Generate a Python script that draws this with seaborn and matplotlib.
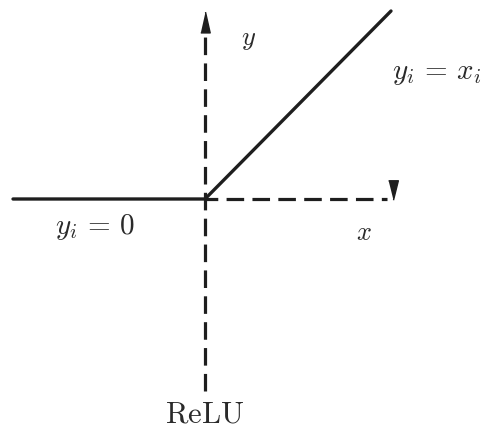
import matplotlib
matplotlib.use("Agg")
import matplotlib.pyplot as plt
import seaborn as sns
import pandas as pd

# ReLU curve (data units: origin at the axes crossing)
relu_x = [-1.92, 0.0, 1.86]
relu_y = [0.0, 0.0, 1.88]

# dashed axes
yaxis_x = [0.0, 0.0]
yaxis_y = [-1.92, 1.62]
xaxis_x = [0.0, 1.82]
xaxis_y = [0.0, 0.0]

# labels
labels = [r"$y$", r"$y_i\,=\,x_i$", r"$y_i\,=\,0$", r"$x$", r"$\mathrm{ReLU}$"]
label_x = [0.44, 1.87, -1.10, 1.59, 0.0]
label_y = [1.61, 1.27, -0.27, -0.33, -2.14]

sns.set_style("white")
plt.rcParams["mathtext.fontset"] = "cm"

fig = plt.figure(figsize=(4.91, 4.31), dpi=100)
ax = fig.add_axes([0, 0, 1, 1])
ax.set_xlim(-2.05, 2.86)
ax.set_ylim(-2.31, 2.00)
ax.axis("off")

ink = "#1e1e1e"
df = pd.DataFrame({"x": relu_x, "y": relu_y})
sns.lineplot(data=df, x="x", y="y", ax=ax, color=ink, linewidth=2.4, sort=False)

ax.plot(yaxis_x, yaxis_y, color=ink, linewidth=2.3, linestyle=(0, (5.5, 2.6)))
ax.plot(xaxis_x, xaxis_y, color=ink, linewidth=2.3, linestyle=(1.5, (5.5, 2.6)))

# arrow heads
ax.plot([0.0], [1.77], marker=[(-0.45, -1), (0.45, -1), (0, 1)], markersize=15,
        color=ink, linestyle="none")
ax.plot([1.88], [0.09], marker=[(-0.5, 1), (0.5, 1), (0, -1)], markersize=14,
        color=ink, linestyle="none")

has = ["center", "left", "center", "center", "center"]
sizes = [19, 21, 21, 19, 22]
for t, x, y, h, s in zip(labels, label_x, label_y, has, sizes):
    ax.text(x, y, t, ha=h, va="center", fontsize=s, color="#2a2a2a")

fig.savefig("out.png", dpi=100)
